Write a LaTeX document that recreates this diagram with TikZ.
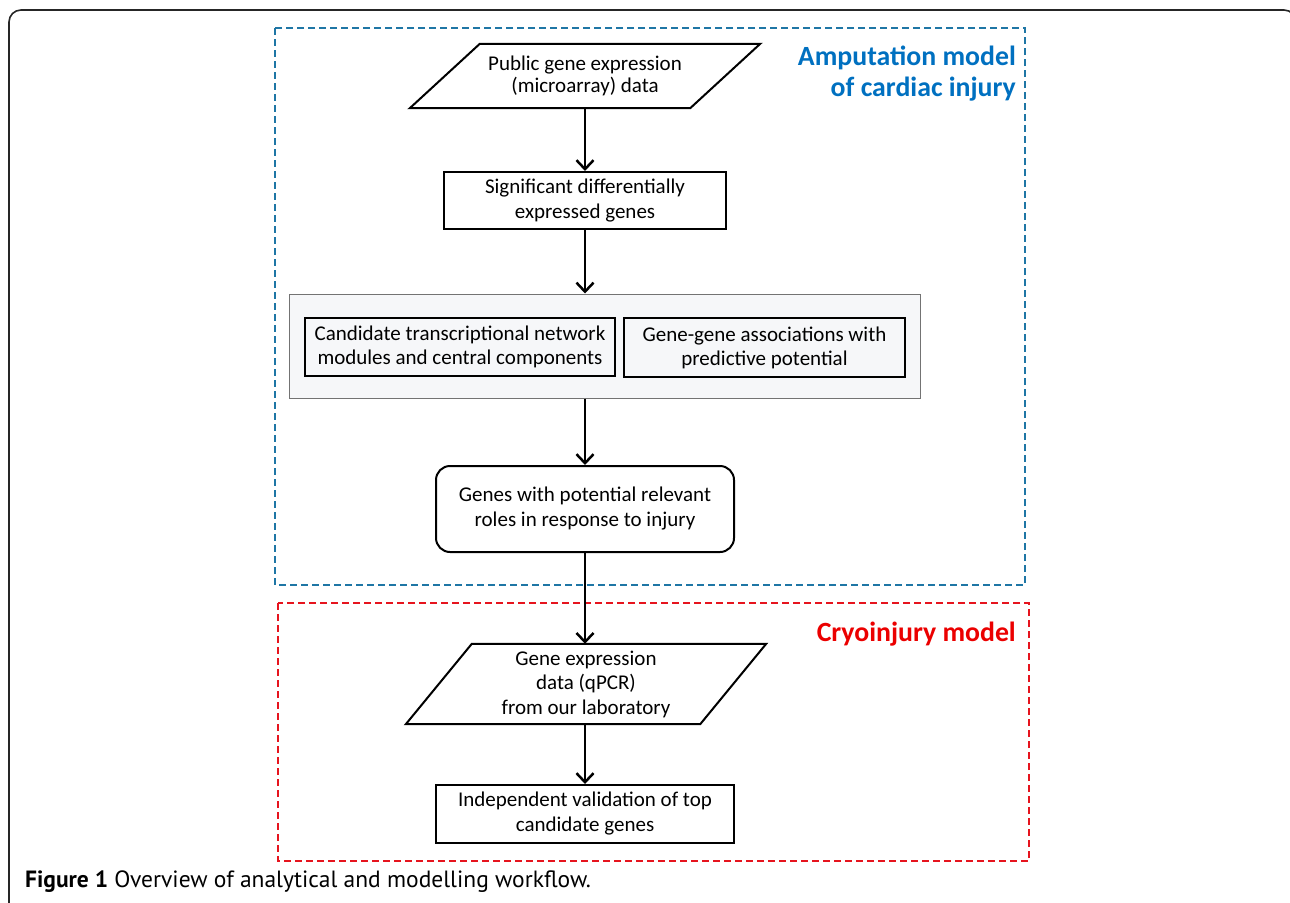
\documentclass[tikz,border=0pt]{standalone}
\usepackage{fontspec}
\setmainfont{Carlito}
\newfontfamily\capfont{PT Sans}
\usetikzlibrary{arrows.meta,calc}
\definecolor{bluebd}{RGB}{31,118,165}
\definecolor{bluetx}{RGB}{0,112,192}
\definecolor{redbd}{RGB}{230,20,30}
\definecolor{redtx}{RGB}{235,0,0}
\definecolor{grayfill}{RGB}{246,247,249}
\tikzset{
  box/.style={draw=black, line width=2pt, align=center, inner sep=0pt, font=\fontsize{21}{25}\selectfont},
  ibox/.style={draw=black, line width=2.8pt, align=center, inner sep=0pt, font=\fontsize{21}{24}\selectfont},
  plain/.style={draw=none, align=center, inner sep=0pt, font=\fontsize{21}{24.5}\selectfont},
  arr/.style={line width=2.5pt, -{Straight Barb[length=9pt,width=17pt,line width=2.5pt]}},
  bluedash/.style={draw=bluebd, line width=2pt, dash pattern=on 7pt off 4pt},
  reddash/.style={draw=redbd, line width=2pt, dash pattern=on 7pt off 4pt},
  title/.style={inner sep=0pt, anchor=east, font=\bfseries\fontsize{27.8}{30}\selectfont}
}
\begin{document}
\begin{tikzpicture}[x=1pt,y=-1pt]
\useasboundingbox (0,0) rectangle (1290,902);
% outer frame
\draw[line width=1.6pt, color=black!85, rounded corners=12pt] (9,910) -- (9,10) -- (1296,10) -- (1296,40);
% model frames
\draw[bluedash] (275,28) rectangle (1025,585);
\draw[reddash] (278,603) rectangle (1029,861);
\node[title, text=bluetx] (t1) at (1016,58) {Amputation model};
\node[title, text=bluetx] (t2) at (1016,89) {of cardiac injury};
\node[title, text=redtx] (t3) at (1016,634) {Cryoinjury model};
% nodes
\node[plain, minimum width=280pt, minimum height=64pt, font=\fontsize{21}{22.5}\selectfont] (p1) at (585,76) {Public gene expression\\(microarray) data};
\draw[line width=2pt] ([xshift=35pt]p1.north west) -- ([xshift=35pt]p1.north east) -- ([xshift=-35pt]p1.south east) -- ([xshift=-35pt]p1.south west) -- cycle;
\node[box, minimum width=282pt, minimum height=57pt] (b2) at (585,200.5) {Significant differentially\\expressed genes};
\node[draw=black!55, line width=1pt, fill=grayfill, minimum width=631pt, minimum height=104pt, inner sep=0pt] (g) at (604.5,346) {};
\node[ibox, minimum width=310pt, minimum height=58pt] (a) at (460,347) {Candidate transcriptional network\\modules and central components};
\node[ibox, minimum width=281pt, minimum height=59pt] (b) at (764.5,347.5) {Gene-gene associations with\\predictive potential};
\node[box, rounded corners=14pt, minimum width=298pt, minimum height=86pt] (r) at (585,509) {Genes with potential relevant\\roles in response to injury};
\node[plain, minimum width=294pt, minimum height=80pt] (p2) at (586,684) {Gene expression\\data (qPCR)\\from our laboratory};
\draw[line width=2pt] ([xshift=33pt]p2.north west) -- ([xshift=33pt]p2.north east) -- ([xshift=-33pt]p2.south east) -- ([xshift=-33pt]p2.south west) -- cycle;
\node[box, minimum width=298pt, minimum height=58pt] (f) at (585,814) {Independent validation of top\\candidate genes};
% arrows
\draw[arr] (p1.south) -- (p1.south |- b2.north);
\draw[arr] (b2.south) -- (b2.south |- g.north);
\draw[arr] (b2.south |- g.south) -- (r.north);
\draw[arr] (r.south) -- (r.south |- p2.north);
\draw[arr] (r.south |- p2.south) -- (f.north);
% caption
\node[anchor=base west, inner sep=0pt, font=\capfont\fontsize{23.5}{27}\selectfont] (cap) at (25,887) {\textbf{Figure 1} Overview of analytical and modelling workflow.};
\end{tikzpicture}
\end{document}
